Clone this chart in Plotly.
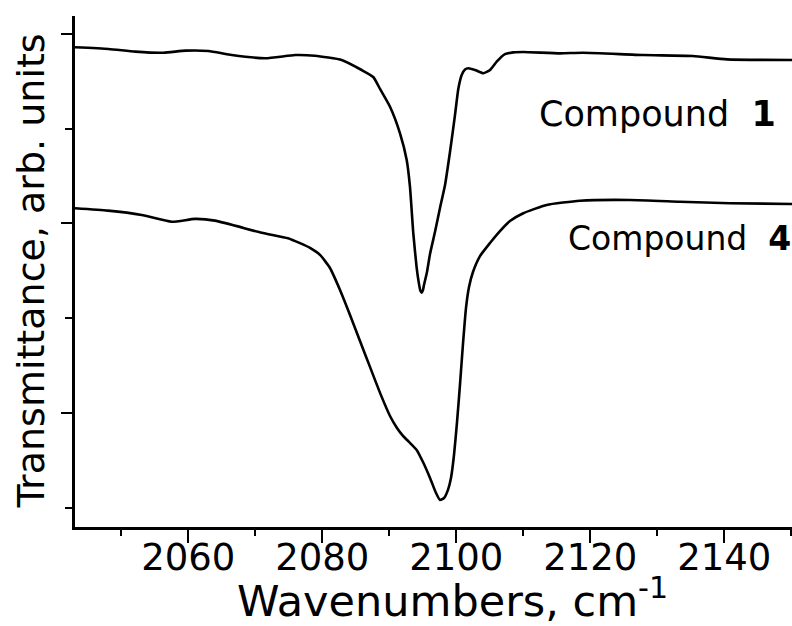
import plotly.graph_objects as go

# Compound 1 spectrum (wavenumber, transmittance arb.)
wn1 = [2043.10, 2048.10, 2052.10, 2056.30, 2059.60, 2063.00, 2066.50, 2071.50, 2076.00, 2078.90,
       2082.90, 2085.88, 2087.61, 2088.62, 2090.11, 2091.60, 2092.60, 2093.09, 2093.58, 2094.09,
       2094.36, 2094.63, 2094.84, 2095.03, 2095.18, 2095.63, 2096.08, 2096.82, 2097.57, 2098.32,
       2099.06, 2099.81, 2100.30, 2100.81, 2101.30, 2101.79, 2102.79, 2104.03, 2105.03, 2106.03,
       2107.27, 2108.51, 2110.00, 2115.50, 2118.90, 2127.90, 2135.30, 2140.40, 2150.10]
tr1 = [2.930, 2.921, 2.907, 2.901, 2.912, 2.910, 2.889, 2.872, 2.889, 2.885,
       2.863, 2.810, 2.773, 2.710, 2.616, 2.476, 2.335, 2.193, 1.950, 1.765,
       1.697, 1.646, 1.635, 1.649, 1.675, 1.744, 1.839, 1.955, 2.082, 2.203,
       2.377, 2.573, 2.710, 2.784, 2.813, 2.819, 2.810, 2.793, 2.810, 2.854,
       2.894, 2.903, 2.905, 2.898, 2.901, 2.889, 2.884, 2.866, 2.863]

# Compound 4 spectrum
wn4 = [2043.10, 2048.02, 2053.05, 2057.53, 2061.01, 2063.99, 2070.96, 2074.89, 2076.68, 2078.17,
       2079.66, 2081.15, 2082.65, 2084.14, 2085.63, 2087.12, 2088.62, 2090.11, 2091.15, 2092.05,
       2093.09, 2094.09, 2095.03, 2096.08, 2096.97, 2097.57, 2098.17, 2098.76, 2099.21, 2099.66,
       2100.10, 2100.55, 2101.00, 2101.45, 2101.90, 2102.49, 2103.54, 2105.03, 2106.52, 2108.01,
       2110.00, 2113.49, 2118.46, 2125.92, 2133.38, 2140.84, 2150.10]
tr4 = [2.080, 2.068, 2.045, 2.009, 2.024, 2.015, 1.951, 1.922, 1.896, 1.871,
       1.834, 1.765, 1.649, 1.517, 1.380, 1.243, 1.106, 0.984, 0.921, 0.879,
       0.842, 0.805, 0.741, 0.657, 0.578, 0.541, 0.551, 0.594, 0.657, 0.778,
       0.947, 1.148, 1.364, 1.554, 1.665, 1.744, 1.828, 1.897, 1.960, 2.013,
       2.054, 2.098, 2.120, 2.124, 2.115, 2.107, 2.103]

x_range = [2043.1, 2150.1]
y_range = [0.398, 3.095]

FONT = "DejaVu Sans"

fig = go.Figure()
for wn, tr in [(wn1, tr1), (wn4, tr4)]:
    fig.add_trace(go.Scatter(x=wn, y=tr, mode="lines",
                             line=dict(color="black", width=2.6, shape="spline", smoothing=0.5),
                             showlegend=False, hoverinfo="skip"))

fig.update_layout(
    width=792, height=626,
    margin=dict(l=75, r=0, t=16, b=99),
    paper_bgcolor="white", plot_bgcolor="white",
    font=dict(family=FONT, color="black"),
)
fig.update_xaxes(
    range=x_range, showgrid=False, zeroline=False,
    showline=True, linecolor="black", linewidth=2.6,
    ticks="outside", ticklen=13, tickwidth=2.2, tickcolor="black",
    tick0=2060, dtick=20, ticklabelstandoff=-17,
    tickfont=dict(family=FONT, size=37, color="black"),
    minor=dict(ticks="outside", ticklen=6, tickwidth=2.2, tickcolor="black", dtick=10, tick0=2050, showgrid=False),
)
fig.update_yaxes(
    range=y_range, showgrid=False, zeroline=False,
    showline=True, linecolor="black", linewidth=2.6,
    ticks="outside", ticklen=11, tickwidth=2.2, tickcolor="black",
    tick0=0, dtick=1, showticklabels=False,
    minor=dict(ticks="outside", ticklen=7, tickwidth=2.2, tickcolor="black", dtick=0.5, tick0=0, showgrid=False),
)

fig.add_annotation(text="Wavenumbers, cm<sup>-1</sup>", xref="paper", yref="paper",
                   x=0.5265, y=-0.139, xanchor="center", yanchor="middle", showarrow=False,
                   font=dict(family=FONT, size=43, color="black"))
fig.add_annotation(text="Transmittance, arb. units", xref="paper", yref="paper",
                   x=-0.062, y=0.501, xanchor="center", yanchor="middle", textangle=-90,
                   showarrow=False, font=dict(family=FONT, size=38, color="black"))
fig.add_annotation(text="Compound  <b>1</b>", xref="x", yref="y",
                   x=2112.06, y=2.578, xanchor="left", yanchor="middle", showarrow=False,
                   font=dict(family=FONT, size=35, color="black"))
fig.add_annotation(text="Compound  <b>4</b>", xref="x", yref="y",
                   x=2116.3, y=1.922, xanchor="left", yanchor="middle", showarrow=False,
                   font=dict(family=FONT, size=33, color="black"))

fig.write_html("out.html")
